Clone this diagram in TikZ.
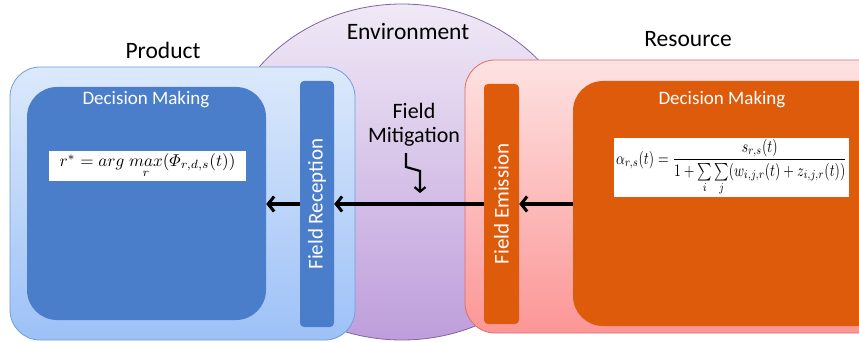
\documentclass[tikz,border=0pt]{standalone}
\usepackage{amsmath}
\usepackage{graphicx}
\usepackage[no-math]{fontspec}
\setmainfont{Carlito}
\usetikzlibrary{shapes.geometric,arrows.meta}
\definecolor{prodtop}{HTML}{DCE9FB}
\definecolor{prodbot}{HTML}{9DC1F7}
\definecolor{prodline}{HTML}{6F9FDB}
\definecolor{blueinner}{HTML}{4A7ECB}
\definecolor{envtop}{HTML}{F0E9F6}
\definecolor{envbot}{HTML}{BE9EDB}
\definecolor{envline}{HTML}{8064A2}
\definecolor{restop}{HTML}{FDE2E2}
\definecolor{resbot}{HTML}{FC9696}
\definecolor{resline}{HTML}{DE6B6B}
\definecolor{orangeinner}{HTML}{DE5B0B}
\tikzset{
  title/.style={font=\fontsize{23.5}{28}\selectfont, inner sep=0pt},
  dmlabel/.style={font=\fontsize{19}{23}\selectfont, text=white, inner sep=0pt},
  barlabel/.style={font=\fontsize{21}{25}\selectfont, text=white, inner sep=0pt, rotate=90},
  outerbox/.style={rectangle, rounded corners=30pt, inner sep=0pt, line width=0.8pt},
  innerbox/.style={rectangle, rounded corners=30pt, inner sep=0pt},
  barbox/.style={rectangle, rounded corners=4pt, inner sep=0pt},
  formbox/.style={rectangle, fill=white, inner sep=0pt},
  flow/.style={line width=3.2pt, -{Straight Barb[length=6pt,width=15pt,line width=3pt]}},
  zig/.style={line width=2.2pt, -{Straight Barb[length=4.5pt,width=11pt,line width=2.2pt]}},
}
\begin{document}
\begin{tikzpicture}[x=1pt,y=-1pt]
\useasboundingbox (0,0) rectangle (859,342);
\clip (0,0) rectangle (859,342);
% environment ellipse
\node[ellipse, draw=envline, line width=0.8pt, top color=envtop, bottom color=envbot,
      minimum width=366pt, minimum height=336pt, inner sep=0pt] (env) at (402,172) {};
% product
\node[outerbox, draw=prodline, top color=prodtop, bottom color=prodbot,
      minimum width=345pt, minimum height=273pt] (prod) at (182.5,203.5) {};
\node[innerbox, fill=blueinner, minimum width=239pt, minimum height=233pt] (pdm) at (146.5,203.5) {};
\node[barbox, fill=blueinner, minimum width=34pt, minimum height=246pt] (rec) at (317,204) {};
\node[formbox, minimum width=197pt, minimum height=30pt] (pf) at (147.5,166)
  {\resizebox{176pt}{!}{$r^{*}=arg\;\underset{r}{max}(\varPhi_{r,d,s}(t))$}};
% resource
\node[outerbox, draw=resline, top color=restop, bottom color=resbot,
      minimum width=440pt, minimum height=273pt] (res) at (685,196.5) {};
\node[barbox, fill=orangeinner, minimum width=35pt, minimum height=240pt] (em) at (501.5,204) {};
\node[innerbox, fill=orangeinner, minimum width=320pt, minimum height=245pt] (rdm) at (733,203.5) {};
\node[formbox, minimum width=235pt, minimum height=59pt] (rf) at (731.5,167.5)
  {\scalebox{1}[1.28]{\resizebox{231pt}{!}{$\alpha_{r,s}(t)=\dfrac{s_{r,s}(t)}{1+\sum\limits_{i}\sum\limits_{j}(w_{i,j,r}(t)+z_{i,j,r}(t))}$}}};
% labels
\node[title] (tprod) at (163,50) {Product};
\node[title] (tenv) at (408,32) {Environment};
\node[title] (tres) at (688,39) {Resource};
\node[dmlabel] (pdml) at (146,100) {Decision Making};
\node[dmlabel] (rdml) at (722,100) {Decision Making};
\node[barlabel] (recl) at (rec.center) {Field Reception};
\node[barlabel] (eml) at (em.center) {Field Emission};
\node[font=\fontsize{22}{24}\selectfont, align=center, inner sep=0pt] (mit) at (414,125) {Field\\Mitigation};
% zigzag
\coordinate (z1) at (406,153);
\coordinate (z2) at (406,167);
\coordinate (z3) at (420,171);
\coordinate (z4) at (420,193);
\draw[zig] (z1) -- (z2) -- (z3) -- (z4);
% flows
\draw[flow] (rec.west |- 0,204) -- (pdm.east |- 0,204);
\draw[flow] (em.west |- 0,204) -- (rec.east |- 0,204);
\draw[flow] (rdm.west |- 0,204) -- (em.east |- 0,204);
\end{tikzpicture}
\end{document}
